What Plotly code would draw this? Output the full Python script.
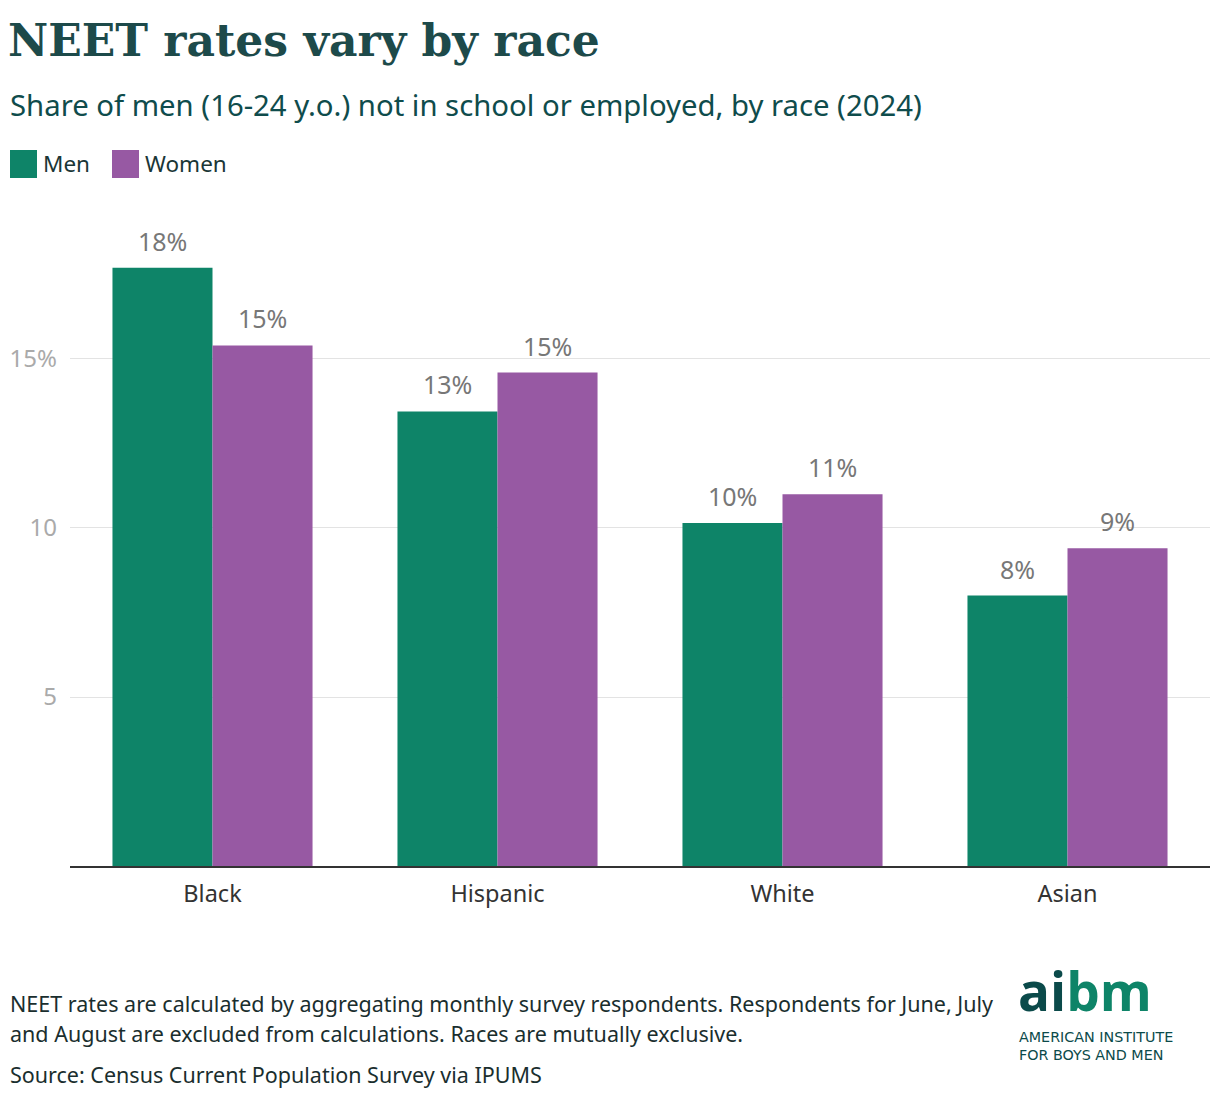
import plotly.graph_objects as go

races = ["Black", "Hispanic", "White", "Asian"]
men = [17.7, 13.45, 10.15, 8.0]
women = [15.4, 14.6, 11.0, 9.4]
ytick_vals = [5, 10, 15]
ytick_text = ["5", "10", "15%"]

GREEN = "#0e8468"
PURPLE = "#9759a3"
TEAL = "#1d4a4a"
BODY = "'Noto Sans', Roboto, sans-serif"

OFF = 8  # page body margin
W, H = 1212, 1092
# target screenshot pixels: plot from x=70..1210, y=215..866
L, T = 70 - OFF, 215 - OFF
R = W - (1210 - OFF)
B = H - (866 - OFF)
PW, PH = W - L - R, H - T - B

def px(x):
    return (x - OFF - L) / PW

def py(y):
    return (H - B - (y - OFF)) / PH

fig = go.Figure()
fig.add_bar(x=races, y=men, name="Men", marker_color=GREEN, marker_line_width=0)
fig.add_bar(x=races, y=women, name="Women", marker_color=PURPLE, marker_line_width=0)

ann = []
for vals, shift in ((men, -50), (women, 50)):
    for r, v in zip(races, vals):
        ann.append(dict(text=f"{v:.0f}%", x=r, y=v, xref="x", yref="y", xshift=shift, yshift=27,
                        xanchor="center", yanchor="middle", showarrow=False,
                        font=dict(family=BODY, size=25, color="#777777")))

fig.update_layout(
    width=W, height=H, margin=dict(l=L, r=R, t=T, b=B),
    paper_bgcolor="white", plot_bgcolor="white",
    barmode="group", bargap=0.298, bargroupgap=0,
    showlegend=False,
    font=dict(family=BODY, color="#333333"),
    xaxis=dict(showline=True, linecolor="#333333", linewidth=2, ticks="", automargin=False,
               tickfont=dict(size=23.5, color="#333333"), showgrid=False, ticklabelstandoff=6),
    yaxis=dict(range=[0, 19.26], tickvals=ytick_vals, ticktext=ytick_text, automargin=False,
               showgrid=True, gridcolor="#e3e3e3", gridwidth=1, zeroline=False,
               tickfont=dict(size=24, color="#aaaaaa"), ticks="", ticklabelstandoff=12),
)

FOOT = dict(family=BODY, size=21.5, color="#1a2e2e")
LOGO_SMALL = dict(family="'DejaVu Sans', sans-serif", size=14.3, color="#0b4a4a")
pa = []
pa.append(dict(text="<b>NEET rates vary by race</b>", x=px(6), y=py(40), xanchor="left", yanchor="middle",
               font=dict(family="'DejaVu Serif', serif", size=44, color=TEAL)))
pa.append(dict(text="Share of men (16-24 y.o.) not in school or employed, by race (2024)",
               x=px(8), y=py(105), xanchor="left", yanchor="middle",
               font=dict(family=BODY, size=29.3, color="#0f4c4c")))
pa.append(dict(text="Men", x=px(41), y=py(163), xanchor="left", yanchor="middle",
               font=dict(family=BODY, size=22.5, color="#1a3636")))
pa.append(dict(text="Women", x=px(143), y=py(163), xanchor="left", yanchor="middle",
               font=dict(family=BODY, size=22.5, color="#1a3636")))
pa.append(dict(text="NEET rates are calculated by aggregating monthly survey respondents. Respondents for June, July",
               x=px(8), y=py(1003), xanchor="left", yanchor="middle", font=FOOT))
pa.append(dict(text="and August are excluded from calculations. Races are mutually exclusive.",
               x=px(8), y=py(1033), xanchor="left", yanchor="middle", font=FOOT))
pa.append(dict(text="Source: Census Current Population Survey via IPUMS",
               x=px(8), y=py(1074), xanchor="left", yanchor="middle", font=FOOT))
pa.append(dict(text="<b><span style='color:#0b4a4a'>ai</span><span style='color:#0e8468'>bm</span></b>",
               x=px(1016), y=py(1029), xanchor="left", yanchor="bottom",
               font=dict(family="'Open Sans', sans-serif", size=53)))
pa.append(dict(text="AMERICAN INSTITUTE", x=px(1017), y=py(1037), xanchor="left", yanchor="middle",
               font=LOGO_SMALL))
pa.append(dict(text="FOR BOYS AND MEN", x=px(1017), y=py(1055), xanchor="left", yanchor="middle",
               font=LOGO_SMALL))
for a in pa:
    a.update(xref="paper", yref="paper", showarrow=False)
fig.update_layout(annotations=ann + pa)

fig.update_layout(shapes=[
    dict(type="rect", xref="paper", yref="paper", x0=px(10), x1=px(37), y0=py(150), y1=py(178),
         fillcolor=GREEN, line_width=0),
    dict(type="rect", xref="paper", yref="paper", x0=px(112), x1=px(139), y0=py(150), y1=py(178),
         fillcolor=PURPLE, line_width=0),
])

fig.write_html("out.html")
